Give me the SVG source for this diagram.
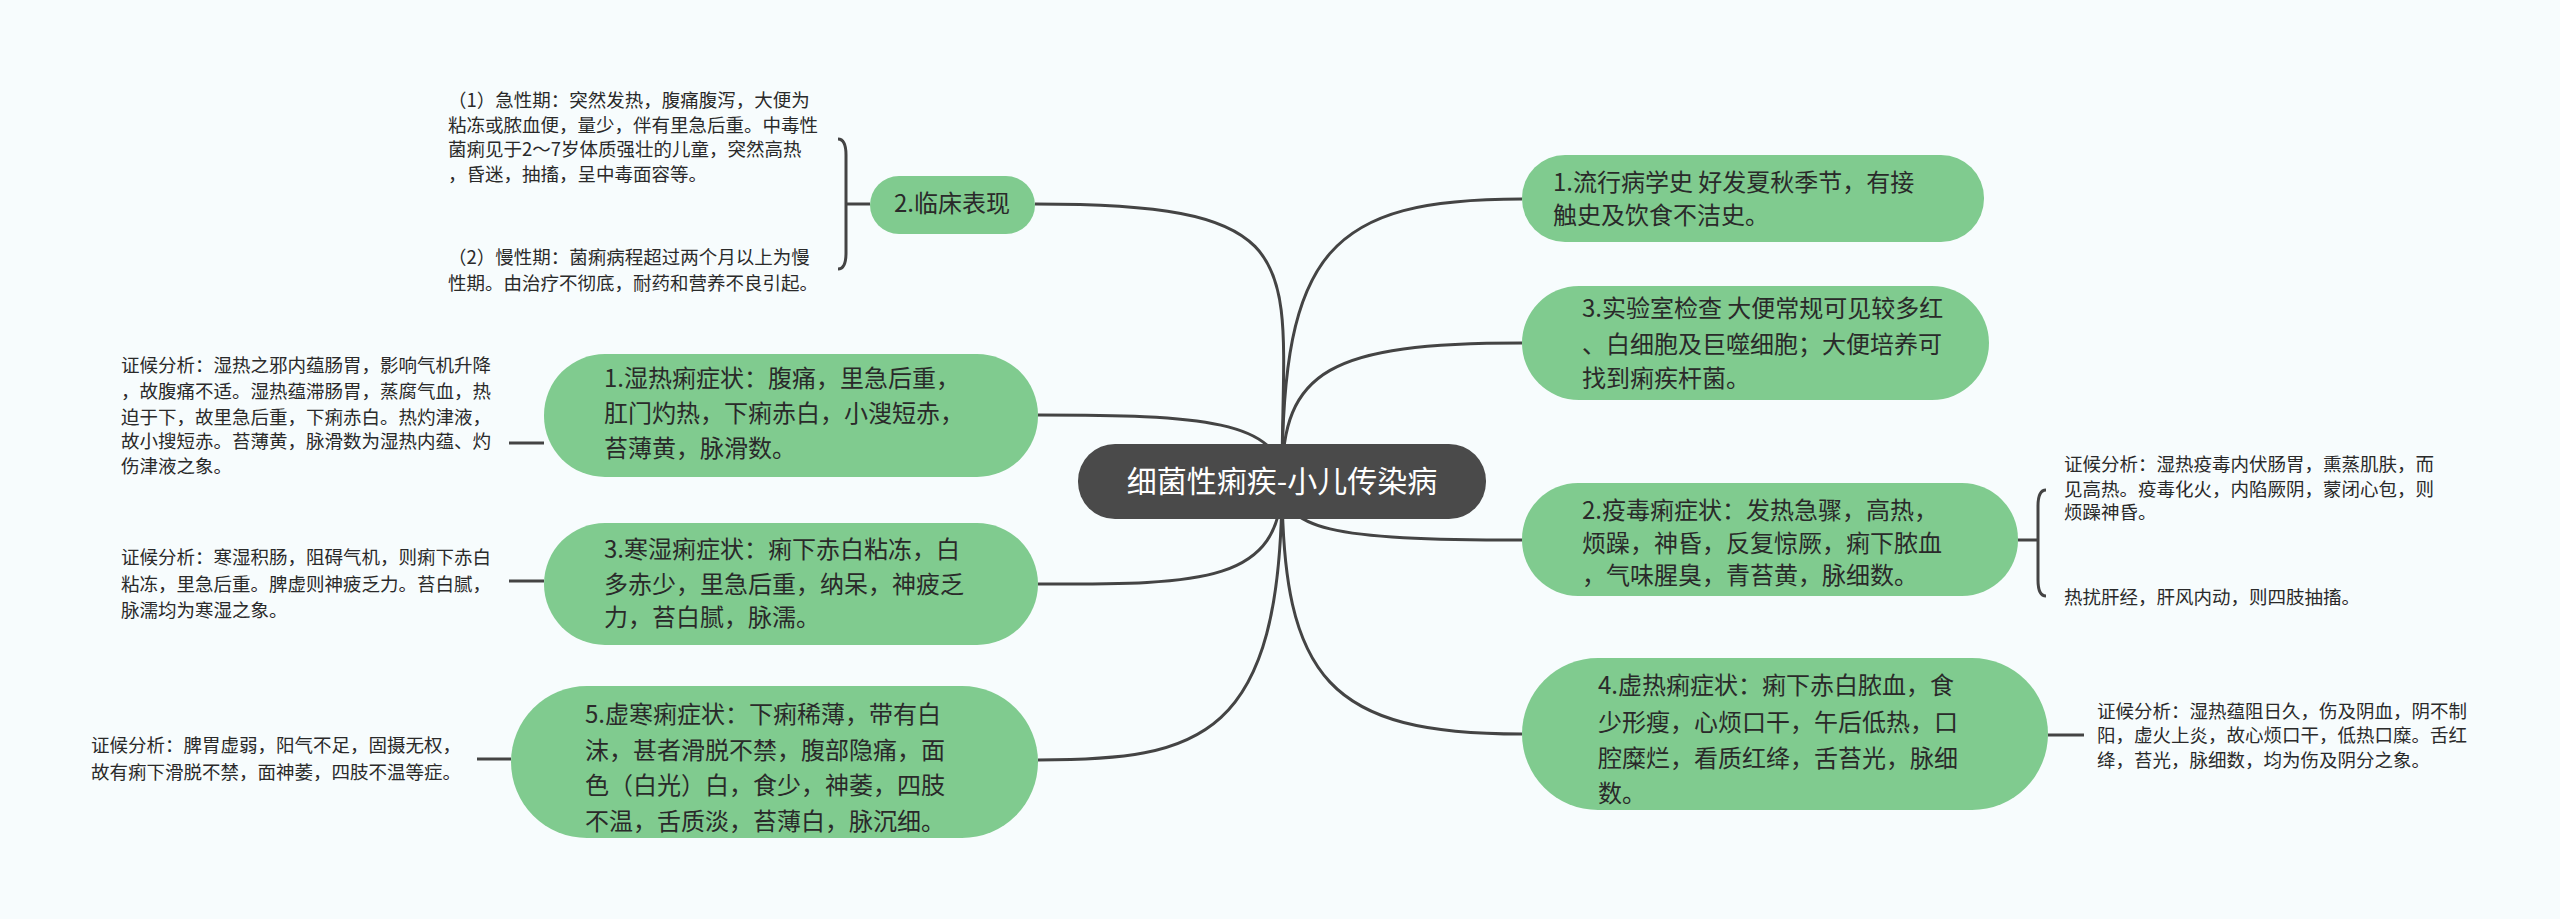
<svg xmlns="http://www.w3.org/2000/svg" width="2560" height="919" viewBox="0 0 2560 919">
<style>
.bg{fill:#f7fcfd}
.n{fill:#80cb8f}
.t{font-family:"Noto Sans CJK SC","Noto Sans",sans-serif;font-size:24px;fill:#2a2a2a}
.s{font-family:"Noto Sans CJK SC","Noto Sans",sans-serif;font-size:18.5px;fill:#2a2a2a}
.c{fill:none;stroke:#444;stroke-width:3}
</style>
<rect class="bg" x="0" y="0" width="2560" height="919"/>
<g id="connectors">
<path class="c" d="M1282,481 C1282,260 1320,204 1035,204"/>
<path class="c" d="M1282,481 C1282,420 1200,415 1038,415"/>
<path class="c" d="M1282,481 C1282,585 1200,584 1038,584"/>
<path class="c" d="M1282,481 C1282,740 1200,760 1038,760"/>
<path class="c" d="M1282,481 C1282,250 1330,199 1522,199"/>
<path class="c" d="M1282,481 C1282,370 1330,343 1522,343"/>
<path class="c" d="M1282,481 C1282,530 1330,540 1522,540"/>
<path class="c" d="M1282,481 C1282,680 1330,734 1522,734"/>
<path class="c" d="M870,204 H846 M838,139 Q846,139 846,155 V253 Q846,269 838,269"/>
<path class="c" d="M544,443 H509"/>
<path class="c" d="M544,581 H509"/>
<path class="c" d="M511,759 H477"/>
<path class="c" d="M2018,540 H2038 M2046,490 Q2038,490 2038,506 V580 Q2038,596 2046,596"/>
<path class="c" d="M2048,735 H2084"/>
</g>
<g id="center">
<rect x="1078" y="444" width="408" height="75" rx="37" fill="#4a4a4a"/>
<text x="1282" y="492" text-anchor="middle" font-family="Noto Sans CJK SC,sans-serif" font-size="30" fill="#fff">细菌性痢疾-小儿传染病</text>
</g>
<g id="n-l2">
<rect class="n" x="870" y="176" width="165" height="58" rx="29"/>
<text class="t" x="952" y="212" text-anchor="middle">2.临床表现</text>
</g>
<g id="n-l2a"><text class="s"><tspan x="448" y="107">（1）急性期：突然发热，腹痛腹泻，大便为</tspan><tspan x="448" y="132">粘冻或脓血便，量少，伴有里急后重。中毒性</tspan><tspan x="448" y="156">菌痢见于2～7岁体质强壮的儿童，突然高热</tspan><tspan x="448" y="181">，昏迷，抽搐，呈中毒面容等。</tspan></text></g>
<g id="n-l2b"><text class="s"><tspan x="448" y="264">（2）慢性期：菌痢病程超过两个月以上为慢</tspan><tspan x="448" y="290">性期。由治疗不彻底，耐药和营养不良引起。</tspan></text></g>
<g id="n-l1">
<rect class="n" x="544" y="354" width="494" height="123" rx="61"/>
<text class="t"><tspan x="604" y="387">1.湿热痢症状：腹痛，里急后重，</tspan><tspan x="604" y="422">肛门灼热，下痢赤白，小溲短赤，</tspan><tspan x="604" y="457">苔薄黄，脉滑数。</tspan></text>
</g>
<g id="n-l1a"><text class="s"><tspan x="121" y="372">证候分析：湿热之邪内蕴肠胃，影响气机升降</tspan><tspan x="121" y="398">，故腹痛不适。湿热蕴滞肠胃，蒸腐气血，热</tspan><tspan x="121" y="424">迫于下，故里急后重，下痢赤白。热灼津液，</tspan><tspan x="121" y="448">故小搜短赤。苔薄黄，脉滑数为湿热内蕴、灼</tspan><tspan x="121" y="473">伤津液之象。</tspan></text></g>
<g id="n-l3">
<rect class="n" x="544" y="523" width="494" height="122" rx="61"/>
<text class="t"><tspan x="604" y="558">3.寒湿痢症状：痢下赤白粘冻，白</tspan><tspan x="604" y="593">多赤少，里急后重，纳呆，神疲乏</tspan><tspan x="604" y="626">力，苔白腻，脉濡。</tspan></text>
</g>
<g id="n-l3a"><text class="s"><tspan x="121" y="564">证候分析：寒湿积肠，阻碍气机，则痢下赤白</tspan><tspan x="121" y="591">粘冻，里急后重。脾虚则神疲乏力。苔白腻，</tspan><tspan x="121" y="617">脉濡均为寒湿之象。</tspan></text></g>
<g id="n-l5">
<rect class="n" x="511" y="686" width="527" height="152" rx="76"/>
<text class="t"><tspan x="585" y="723">5.虚寒痢症状：下痢稀薄，带有白</tspan><tspan x="585" y="759">沫，甚者滑脱不禁，腹部隐痛，面</tspan><tspan x="585" y="794">色（白光）白，食少，神萎，四肢</tspan><tspan x="585" y="830">不温，舌质淡，苔薄白，脉沉细。</tspan></text>
</g>
<g id="n-l5a"><text class="s"><tspan x="91" y="752">证候分析：脾胃虚弱，阳气不足，固摄无权，</tspan><tspan x="91" y="779">故有痢下滑脱不禁，面神萎，四肢不温等症。</tspan></text></g>
<g id="n-r1">
<rect class="n" x="1522" y="155" width="462" height="87" rx="43"/>
<text class="t"><tspan x="1553" y="191">1.流行病学史 好发夏秋季节，有接</tspan><tspan x="1553" y="224">触史及饮食不洁史。</tspan></text>
</g>
<g id="n-r3">
<rect class="n" x="1522" y="286" width="467" height="114" rx="57"/>
<text class="t"><tspan x="1582" y="317">3.实验室检查 大便常规可见较多红</tspan><tspan x="1582" y="353">、白细胞及巨噬细胞；大便培养可</tspan><tspan x="1582" y="387">找到痢疾杆菌。</tspan></text>
</g>
<g id="n-r2">
<rect class="n" x="1522" y="483" width="496" height="113" rx="56"/>
<text class="t"><tspan x="1582" y="519">2.疫毒痢症状：发热急骤，高热，</tspan><tspan x="1582" y="552">烦躁，神昏，反复惊厥，痢下脓血</tspan><tspan x="1582" y="584">，气味腥臭，青苔黄，脉细数。</tspan></text>
</g>
<g id="n-r2a"><text class="s"><tspan x="2064" y="471">证候分析：湿热疫毒内伏肠胃，熏蒸肌肤，而</tspan><tspan x="2064" y="496">见高热。疫毒化火，内陷厥阴，蒙闭心包，则</tspan><tspan x="2064" y="519">烦躁神昏。</tspan></text></g>
<g id="n-r2b"><text class="s" x="2064" y="604">热扰肝经，肝风内动，则四肢抽搐。</text></g>
<g id="n-r4">
<rect class="n" x="1522" y="658" width="526" height="152" rx="76"/>
<text class="t"><tspan x="1598" y="694">4.虚热痢症状：痢下赤白脓血，食</tspan><tspan x="1598" y="731">少形瘦，心烦口干，午后低热，口</tspan><tspan x="1598" y="767">腔糜烂，看质红绛，舌苔光，脉细</tspan><tspan x="1598" y="802">数。</tspan></text>
</g>
<g id="n-r4a"><text class="s"><tspan x="2097" y="718">证候分析：湿热蕴阻日久，伤及阴血，阴不制</tspan><tspan x="2097" y="742">阳，虚火上炎，故心烦口干，低热口糜。舌红</tspan><tspan x="2097" y="767">绛，苔光，脉细数，均为伤及阴分之象。</tspan></text></g>
</svg>
